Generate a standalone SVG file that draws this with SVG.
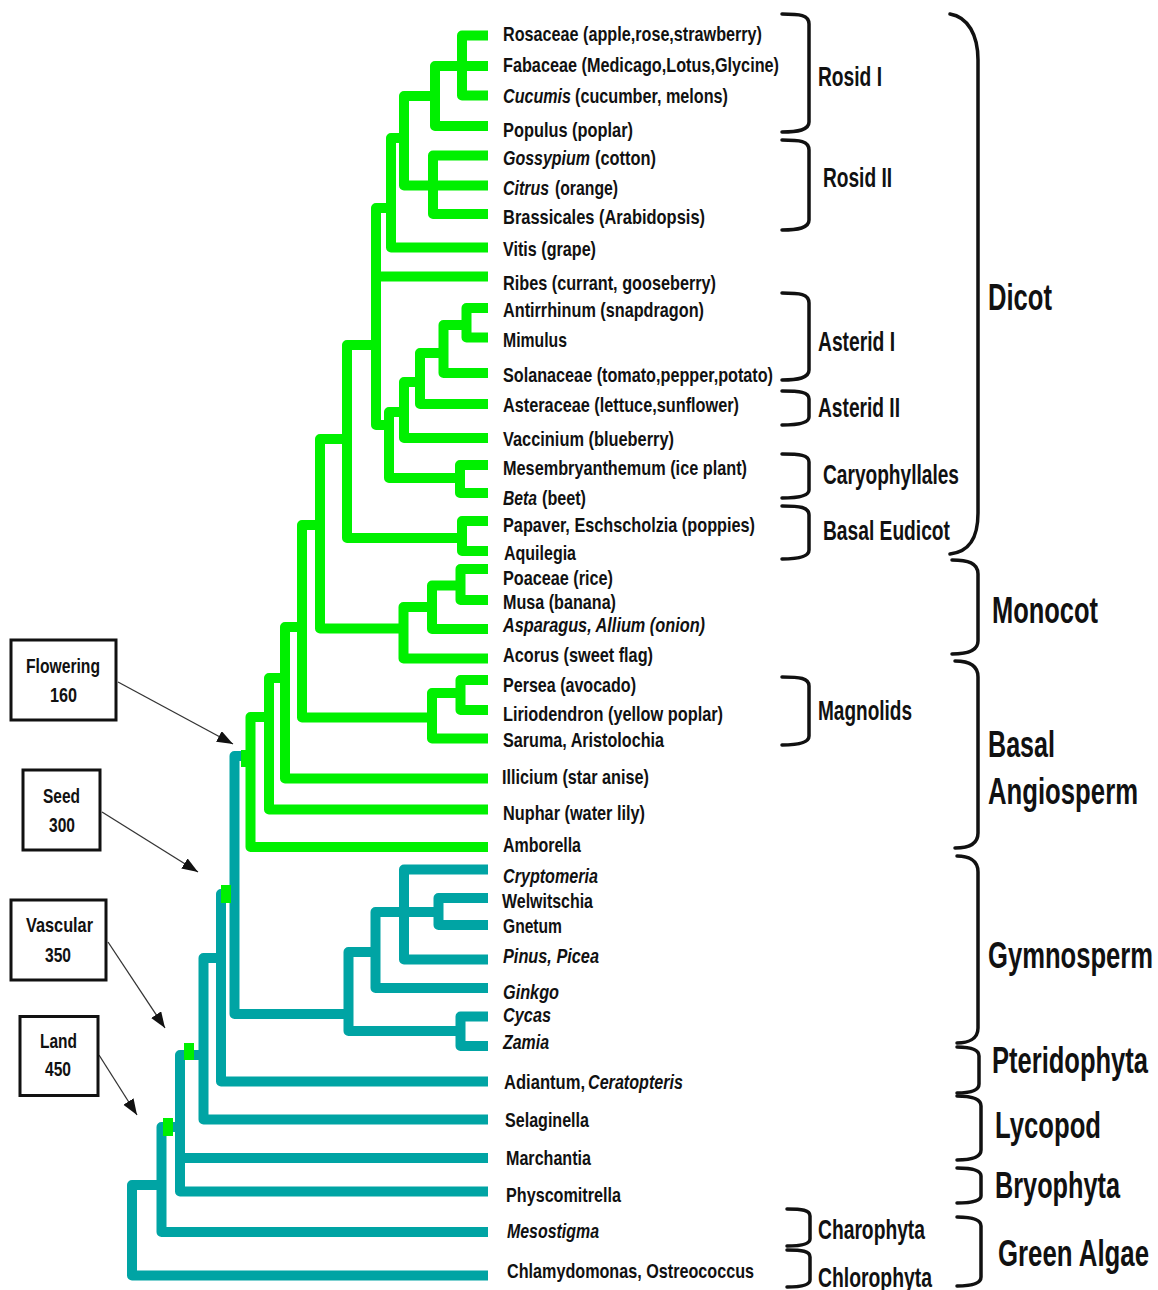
<svg xmlns="http://www.w3.org/2000/svg" width="1158" height="1290" viewBox="0 0 1158 1290">
<style>
.t{font-family:"Liberation Sans Narrow","Liberation Sans",Arial,sans-serif;font-weight:bold;font-size:21px;fill:#111}
.m{font-size:27px}
.b{font-size:36px}
.i{font-style:italic}
.g path{fill:none;stroke:#00f000;stroke-width:10;stroke-linejoin:round}
.c path{fill:none;stroke:#00a4a4;stroke-width:10;stroke-linejoin:round}
.br{fill:none;stroke:#111;stroke-width:3.5;stroke-linecap:round}
.box{fill:#fff;stroke:#111;stroke-width:3}
.arr{stroke:#333;stroke-width:1.3;fill:none}
.sq{fill:#00f000}
</style>
<defs>
<marker id="ah" markerUnits="userSpaceOnUse" markerWidth="18" markerHeight="14" refX="16" refY="6" orient="auto">
<path d="M0,0 L16,6 L0,12 z" fill="#111"/>
</marker>
</defs>
<rect width="1158" height="1290" fill="#fff"/>
<g id="connectors">
<g class="g" id="tree-angiosperm">
<path d="M488,35.5 H462 V95.5 H488"/>
<path d="M488,66 H435 V126 H488"/>
<path d="M435,96 H404 V185.5 H488"/>
<path d="M488,155.5 H433 V214 H488"/>
<path d="M404,138 H391 V247.5 H488"/>
<path d="M391,208 H376 V425 H389"/>
<path d="M376,276.5 H488"/>
<path d="M488,308 H466.5 V337.5 H488"/>
<path d="M466.5,325 H443.5 V373 H488"/>
<path d="M443.5,353 H420 V404 H488"/>
<path d="M420,382 H404 V438 H488"/>
<path d="M404,412 H389 V478 H460"/>
<path d="M488,465 H460 V493 H488"/>
<path d="M376,345 H347 V538 H462"/>
<path d="M488,521 H462 V551 H488"/>
<path d="M347,439 H320 V628.5 H403.5"/>
<path d="M488,569 H460.5 V600 H488"/>
<path d="M460.5,585.5 H432 V629 H488"/>
<path d="M432,607 H403.5 V658.5 H488"/>
<path d="M320,525 H302 V717.5 H432"/>
<path d="M488,680 H460.5 V710 H488"/>
<path d="M460.5,693 H432 V738.5 H488"/>
<path d="M302,627 H285 V778.5 H488"/>
<path d="M285,678 H269 V809.5 H488"/>
<path d="M269,717 H250.5 V847 H488"/>
</g>
<g class="c" id="tree-basal">
<path d="M488,898 H438.5 V925 H488"/>
<path d="M488,869.5 H404 V959.5 H488"/>
<path d="M438.5,912 H375.5 V988 H488"/>
<path d="M375.5,952 H348.5 V1031 H460.5"/>
<path d="M488,1016.5 H460.5 V1046 H488"/>
<path d="M348.5,1014 H234.5 V756 H247"/>
<path d="M234.5,894 H221 V1081.5 H488"/>
<path d="M221,958 H203.5 V1119.5 H488"/>
<path d="M203.5,1055 H180 V1191.5 H488"/>
<path d="M180,1158 H488"/>
<path d="M180,1127 H161.5 V1232 H488"/>
<path d="M161.5,1185 H132 V1275.5 H488"/>
</g>
<rect class="sq" x="241" y="750" width="11" height="17"/>
<rect class="sq" x="221" y="885" width="10" height="18"/>
<rect class="sq" x="184" y="1043" width="10" height="17"/>
<rect class="sq" x="163" y="1118" width="10" height="18"/>
<line class="arr" x1="118" y1="682" x2="233" y2="744" marker-end="url(#ah)"/>
<line class="arr" x1="102" y1="812" x2="198" y2="872" marker-end="url(#ah)"/>
<line class="arr" x1="108" y1="942" x2="165" y2="1028" marker-end="url(#ah)"/>
<line class="arr" x1="99" y1="1055" x2="137" y2="1115" marker-end="url(#ah)"/>
</g>
<g id="taxa">
<text class="t" x="503" y="41" textLength="259" lengthAdjust="spacingAndGlyphs">Rosaceae (apple,rose,strawberry)</text>
<text class="t" x="503" y="72" textLength="276" lengthAdjust="spacingAndGlyphs">Fabaceae (Medicago,Lotus,Glycine)</text>
<text class="t i" x="503" y="103" textLength="68" lengthAdjust="spacingAndGlyphs">Cucumis</text>
<text class="t" x="575" y="103" textLength="153" lengthAdjust="spacingAndGlyphs">(cucumber, melons)</text>
<text class="t" x="503" y="137" textLength="130" lengthAdjust="spacingAndGlyphs">Populus (poplar)</text>
<text class="t i" x="503" y="165" textLength="87" lengthAdjust="spacingAndGlyphs">Gossypium</text>
<text class="t" x="595" y="165" textLength="61" lengthAdjust="spacingAndGlyphs">(cotton)</text>
<text class="t i" x="503" y="195" textLength="46" lengthAdjust="spacingAndGlyphs">Citrus</text>
<text class="t" x="555" y="195" textLength="63" lengthAdjust="spacingAndGlyphs">(orange)</text>
<text class="t" x="503" y="224" textLength="202" lengthAdjust="spacingAndGlyphs">Brassicales  (Arabidopsis)</text>
<text class="t" x="503" y="256" textLength="93" lengthAdjust="spacingAndGlyphs">Vitis (grape)</text>
<text class="t" x="503" y="290" textLength="213" lengthAdjust="spacingAndGlyphs">Ribes (currant, gooseberry)</text>
<text class="t" x="503" y="317" textLength="201" lengthAdjust="spacingAndGlyphs">Antirrhinum (snapdragon)</text>
<text class="t" x="503" y="347" textLength="64" lengthAdjust="spacingAndGlyphs">Mimulus</text>
<text class="t" x="503" y="382" textLength="270" lengthAdjust="spacingAndGlyphs">Solanaceae (tomato,pepper,potato)</text>
<text class="t" x="503" y="412" textLength="236" lengthAdjust="spacingAndGlyphs">Asteraceae (lettuce,sunflower)</text>
<text class="t" x="503" y="446" textLength="171" lengthAdjust="spacingAndGlyphs">Vaccinium (blueberry)</text>
<text class="t" x="503" y="475" textLength="244" lengthAdjust="spacingAndGlyphs">Mesembryanthemum (ice plant)</text>
<text class="t i" x="503" y="505" textLength="34" lengthAdjust="spacingAndGlyphs">Beta</text>
<text class="t" x="542" y="505" textLength="44" lengthAdjust="spacingAndGlyphs">(beet)</text>
<text class="t" x="503" y="532" textLength="252" lengthAdjust="spacingAndGlyphs">Papaver, Eschscholzia (poppies)</text>
<text class="t" x="504" y="560" textLength="72" lengthAdjust="spacingAndGlyphs">Aquilegia</text>
<text class="t" x="503" y="585" textLength="110" lengthAdjust="spacingAndGlyphs">Poaceae (rice)</text>
<text class="t" x="503" y="609" textLength="113" lengthAdjust="spacingAndGlyphs">Musa (banana)</text>
<text class="t i" x="503" y="632" textLength="202" lengthAdjust="spacingAndGlyphs">Asparagus, Allium (onion)</text>
<text class="t" x="503" y="662" textLength="150" lengthAdjust="spacingAndGlyphs">Acorus (sweet flag)</text>
<text class="t" x="503" y="692" textLength="133" lengthAdjust="spacingAndGlyphs">Persea (avocado)</text>
<text class="t" x="503" y="721" textLength="220" lengthAdjust="spacingAndGlyphs">Liriodendron (yellow poplar)</text>
<text class="t" x="503" y="747" textLength="161" lengthAdjust="spacingAndGlyphs">Saruma, Aristolochia</text>
<text class="t" x="502" y="784" textLength="147" lengthAdjust="spacingAndGlyphs">Illicium (star anise)</text>
<text class="t" x="503" y="820" textLength="142" lengthAdjust="spacingAndGlyphs">Nuphar (water lily)</text>
<text class="t" x="503" y="852" textLength="78" lengthAdjust="spacingAndGlyphs">Amborella</text>
<text class="t i" x="503" y="883" textLength="95" lengthAdjust="spacingAndGlyphs">Cryptomeria</text>
<text class="t" x="502" y="908" textLength="91" lengthAdjust="spacingAndGlyphs">Welwitschia</text>
<text class="t" x="503" y="933" textLength="59" lengthAdjust="spacingAndGlyphs">Gnetum</text>
<text class="t i" x="503" y="963" textLength="96" lengthAdjust="spacingAndGlyphs">Pinus, Picea</text>
<text class="t i" x="503" y="999" textLength="56" lengthAdjust="spacingAndGlyphs">Ginkgo</text>
<text class="t i" x="503" y="1022" textLength="48" lengthAdjust="spacingAndGlyphs">Cycas</text>
<text class="t i" x="503" y="1049" textLength="46" lengthAdjust="spacingAndGlyphs">Zamia</text>
<text class="t" x="504" y="1089" textLength="81" lengthAdjust="spacingAndGlyphs">Adiantum,</text>
<text class="t i" x="588" y="1089" textLength="95" lengthAdjust="spacingAndGlyphs">Ceratopteris</text>
<text class="t" x="505" y="1127" textLength="84" lengthAdjust="spacingAndGlyphs">Selaginella</text>
<text class="t" x="506" y="1165" textLength="85" lengthAdjust="spacingAndGlyphs">Marchantia</text>
<text class="t" x="506" y="1202" textLength="115" lengthAdjust="spacingAndGlyphs">Physcomitrella</text>
<text class="t i" x="507" y="1238" textLength="92" lengthAdjust="spacingAndGlyphs">Mesostigma</text>
<text class="t" x="507" y="1278" textLength="247" lengthAdjust="spacingAndGlyphs">Chlamydomonas, Ostreococcus</text>
</g>
<g id="node-flowering">
<rect class="box" x="11" y="640" width="105" height="80"/>
<text class="t" x="26" y="673" textLength="74" lengthAdjust="spacingAndGlyphs">Flowering</text>
<text class="t" x="50" y="702" textLength="27" lengthAdjust="spacingAndGlyphs">160</text>
</g>
<g id="node-seed">
<rect class="box" x="23" y="770" width="77" height="80"/>
<text class="t" x="43" y="803" textLength="37" lengthAdjust="spacingAndGlyphs">Seed</text>
<text class="t" x="49" y="832" textLength="26" lengthAdjust="spacingAndGlyphs">300</text>
</g>
<g id="node-vascular">
<rect class="box" x="11" y="900" width="95" height="80"/>
<text class="t" x="26" y="932" textLength="67" lengthAdjust="spacingAndGlyphs">Vascular</text>
<text class="t" x="45" y="962" textLength="26" lengthAdjust="spacingAndGlyphs">350</text>
</g>
<g id="node-land">
<rect class="box" x="20" y="1016.5" width="78" height="79"/>
<text class="t" x="40" y="1048" textLength="37" lengthAdjust="spacingAndGlyphs">Land</text>
<text class="t" x="45" y="1076" textLength="26" lengthAdjust="spacingAndGlyphs">450</text>
</g>
<g id="brackets">
<path class="br" d="M782,14 C800,14 809,15 809,24 V122 C809,130 798,132 782,132"/>
<path class="br" d="M782,140 C800,140 809,141 809,150 V220 C809,228 798,230 782,230"/>
<path class="br" d="M782,293 C800,293 809,294 809,303 V370 C809,378 798,380 782,380"/>
<path class="br" d="M782,391 C800,391 809,392 809,399 V417 C809,423 798,425 782,425"/>
<path class="br" d="M782,454 C800,454 809,455 809,462 V490 C809,496 798,498 782,498"/>
<path class="br" d="M782,506 C800,506 809,507 809,515 V550 C809,557 798,559 782,559"/>
<path class="br" d="M782,677 C800,677 809,678 809,686 V736 C809,743 798,745 782,745"/>
<path class="br" d="M787,1209 C802,1209 810,1210 810,1216 V1239 C810,1244 802,1246 787,1246"/>
<path class="br" d="M787,1250 C802,1250 810,1251 810,1257 V1280 C810,1285 802,1287 787,1287"/>
<path class="br" d="M950,14 C968,17 978,35 978,60 V513 C978,540 968,552 950,554"/>
<path class="br" d="M952,560 C968,560 978,563 978,574 V641 C978,651 968,654 952,654"/>
<path class="br" d="M955,661 C968,661 978,665 978,677 V833 C978,844 968,848 955,848"/>
<path class="br" d="M957,856 C968,856 978,860 978,872 V1028 C978,1039 968,1043 957,1043"/>
<path class="br" d="M957,1047 C970,1047 979,1049 979,1056 V1084 C979,1091 970,1093 957,1093"/>
<path class="br" d="M957,1096 C970,1096 981,1098 981,1106 V1150 C981,1158 970,1160 957,1160"/>
<path class="br" d="M957,1168 C970,1168 981,1170 981,1176 V1196 C981,1201 970,1203 957,1203"/>
<path class="br" d="M957,1217 C970,1217 981,1219 981,1226 V1277 C981,1284 970,1286 957,1286"/>
</g>
<g id="labels">
<text class="t m" x="818" y="86" textLength="64" lengthAdjust="spacingAndGlyphs">Rosid I</text>
<text class="t m" x="823" y="187" textLength="69" lengthAdjust="spacingAndGlyphs">Rosid II</text>
<text class="t m" x="818" y="351" textLength="77" lengthAdjust="spacingAndGlyphs">Asterid I</text>
<text class="t m" x="818" y="417" textLength="82" lengthAdjust="spacingAndGlyphs">Asterid II</text>
<text class="t m" x="823" y="484" textLength="136" lengthAdjust="spacingAndGlyphs">Caryophyllales</text>
<text class="t m" x="823" y="540" textLength="127" lengthAdjust="spacingAndGlyphs">Basal Eudicot</text>
<text class="t m" x="818" y="720" textLength="94" lengthAdjust="spacingAndGlyphs">Magnolids</text>
<text class="t m" x="818" y="1239" textLength="107" lengthAdjust="spacingAndGlyphs">Charophyta</text>
<text class="t m" x="818" y="1287" textLength="114" lengthAdjust="spacingAndGlyphs">Chlorophyta</text>
<text class="t b" x="988" y="310" textLength="64" lengthAdjust="spacingAndGlyphs">Dicot</text>
<text class="t b" x="992" y="623" textLength="106" lengthAdjust="spacingAndGlyphs">Monocot</text>
<text class="t b" x="988" y="757" textLength="67" lengthAdjust="spacingAndGlyphs">Basal</text>
<text class="t b" x="988" y="804" textLength="150" lengthAdjust="spacingAndGlyphs">Angiosperm</text>
<text class="t b" x="988" y="968" textLength="165" lengthAdjust="spacingAndGlyphs">Gymnosperm</text>
<text class="t b" x="992" y="1073" textLength="156" lengthAdjust="spacingAndGlyphs">Pteridophyta</text>
<text class="t b" x="995" y="1138" textLength="106" lengthAdjust="spacingAndGlyphs">Lycopod</text>
<text class="t b" x="995" y="1198" textLength="125" lengthAdjust="spacingAndGlyphs">Bryophyta</text>
<text class="t b" x="998" y="1266" textLength="151" lengthAdjust="spacingAndGlyphs">Green Algae</text>
</g>
</svg>
